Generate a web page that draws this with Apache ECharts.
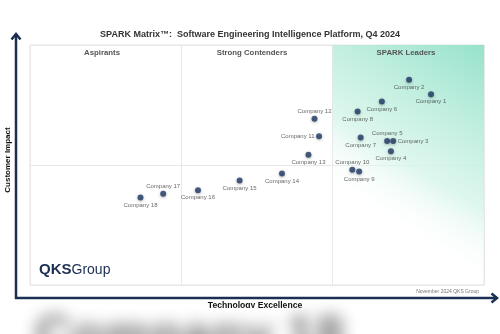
<!DOCTYPE html>
<html><head><meta charset="utf-8">
<script src="https://cdn.jsdelivr.net/npm/echarts@6/dist/echarts.min.js"></script>
<style>html,body{margin:0;padding:0;background:#fff}#c{width:500px;height:334px}</style>
</head><body><div id="c"></div>
<script>
const companies = ['Company 1','Company 2','Company 3','Company 4','Company 5','Company 6','Company 7','Company 8','Company 9','Company 10','Company 11','Company 12','Company 13','Company 14','Company 15','Company 16','Company 17','Company 18'];
const technologyExcellence = [26.5, 25.05, 24.0, 23.85, 23.6, 23.25, 21.85, 21.65, 21.75, 21.3, 19.1, 18.8, 18.4, 16.65, 13.85, 11.1, 8.8, 7.3];
const customerImpact = [15.9, 17.1, 12.0, 11.15, 12.0, 15.3, 12.3, 14.45, 9.45, 9.6, 12.4, 13.85, 10.85, 9.3, 8.7, 7.9, 7.6, 7.3];
const labelSide = ['bottom','bottom','right','bottom','top','bottom','bottom','bottom','bottom','top','left','top','bottom','bottom','bottom','bottom','top','bottom'];
const quadrants = ['Aspirants','Strong Contenders','SPARK Leaders'];

const FONT = '"Liberation Sans", Arial, sans-serif';
const NAVY = '#1b2f52';
const chart = echarts.init(document.getElementById('c'), null, {renderer:'canvas'});

const points = companies.map((n,i)=>({
  name:n, value:[technologyExcellence[i], customerImpact[i]],
  label:{position:labelSide[i]}
}));

chart.setOption({
  animation:false,
  backgroundColor:'#fff',
  grid:{left:30,right:16,top:45,bottom:49,show:true,borderColor:'#e4e4e4',borderWidth:1},
  xAxis:{type:'value',min:0,max:30,interval:10,axisLabel:{show:false},axisTick:{show:false},axisLine:{show:false},splitLine:{lineStyle:{color:'#e8e8e8',width:1}}},
  yAxis:{type:'value',min:0,max:20,interval:10,axisLabel:{show:false},axisTick:{show:false},axisLine:{show:false},splitLine:{lineStyle:{color:'#e8e8e8',width:1}}},
  series:[
    {type:'scatter',data:[],z:1,silent:true,
     markArea:{silent:true,itemStyle:{color:{type:'linear',x:0,y:1,x2:1,y2:0,colorStops:[
        {offset:0,color:'rgba(255,255,255,0)'},{offset:0.28,color:'rgba(255,255,255,0)'},
        {offset:0.5,color:'rgba(215,245,234,0.8)'},{offset:1,color:'rgba(150,226,203,1)'}]}},
       data:[[{xAxis:20,yAxis:0},{xAxis:30,yAxis:20}]]}},
    {type:'scatter',data:points,z:3,symbolSize:6,
     itemStyle:{color:'#1f3864',shadowColor:'rgba(0,0,0,0.35)',shadowBlur:3,shadowOffsetY:1},
     label:{show:true,formatter:'{b}',fontFamily:FONT,fontSize:6,color:'#404040',distance:1.5}}
  ],
  graphic:{elements:[
    {type:'text',z:100,left:'center',top:30,style:{text:'SPARK Matrix\u2122:  Software Engineering Intelligence Platform, Q4 2024',font:'bold 9px '+FONT,fill:'#333'}},
    {type:'text',z:100,x:102,y:52.5,style:{text:quadrants[0],font:'bold 7.8px '+FONT,fill:'#555',align:'center',verticalAlign:'middle'}},
    {type:'text',z:100,x:252,y:52.5,style:{text:quadrants[1],font:'bold 7.8px '+FONT,fill:'#555',align:'center',verticalAlign:'middle'}},
    {type:'text',z:100,x:406,y:52.5,style:{text:quadrants[2],font:'bold 7.8px '+FONT,fill:'#555',align:'center',verticalAlign:'middle'}},
    {type:'text',z:100,x:39,y:270,style:{rich:{q:{font:'bold 15px '+FONT,fill:NAVY,color:NAVY},g:{font:'14px '+FONT,fill:NAVY,color:NAVY}},text:'{q|QKS}{g|Group}',verticalAlign:'middle'}},
    {type:'text',z:100,x:479,y:291.5,style:{text:'November 2024 QKS Group',font:'5px '+FONT,fill:'#777',align:'right',verticalAlign:'middle'}},
    {type:'polyline',z:100,shape:{points:[[16,34],[16,298],[497,298]]},style:{stroke:NAVY,lineWidth:2.5,fill:null}},
    {type:'polyline',z:100,shape:{points:[[11.5,39.5],[16,34],[20.5,39.5]]},style:{stroke:NAVY,lineWidth:2.5,fill:null}},
    {type:'polyline',z:100,shape:{points:[[491.5,293.5],[497,298],[491.5,302.5]]},style:{stroke:NAVY,lineWidth:2.5,fill:null}},
    {type:'text',z:100,x:8,y:160,rotation:Math.PI/2,style:{text:'Customer Impact',font:'bold 8px '+FONT,fill:'#111',align:'center',verticalAlign:'middle'}},
    {type:'text',z:100,x:255,y:305.5,style:{text:'Technology Excellence',font:'bold 8.6px '+FONT,fill:'#111',align:'center',verticalAlign:'middle'}},
    {type:'rect',z:101,shape:{x:26,y:308,width:300,height:30},style:{fill:'#fff'}},
    {type:'text',z:102,x:-1900,y:312,style:{text:'Company 18',font:'bold 52px '+FONT,fill:'#000',
      textShadowColor:'rgba(80,80,80,0.85)',textShadowBlur:16,textShadowOffsetX:1935,textShadowOffsetY:0,
      shadowColor:'rgba(80,80,80,0.85)',shadowBlur:16,shadowOffsetX:1935,shadowOffsetY:0}}
  ]}
});
</script></body></html>
